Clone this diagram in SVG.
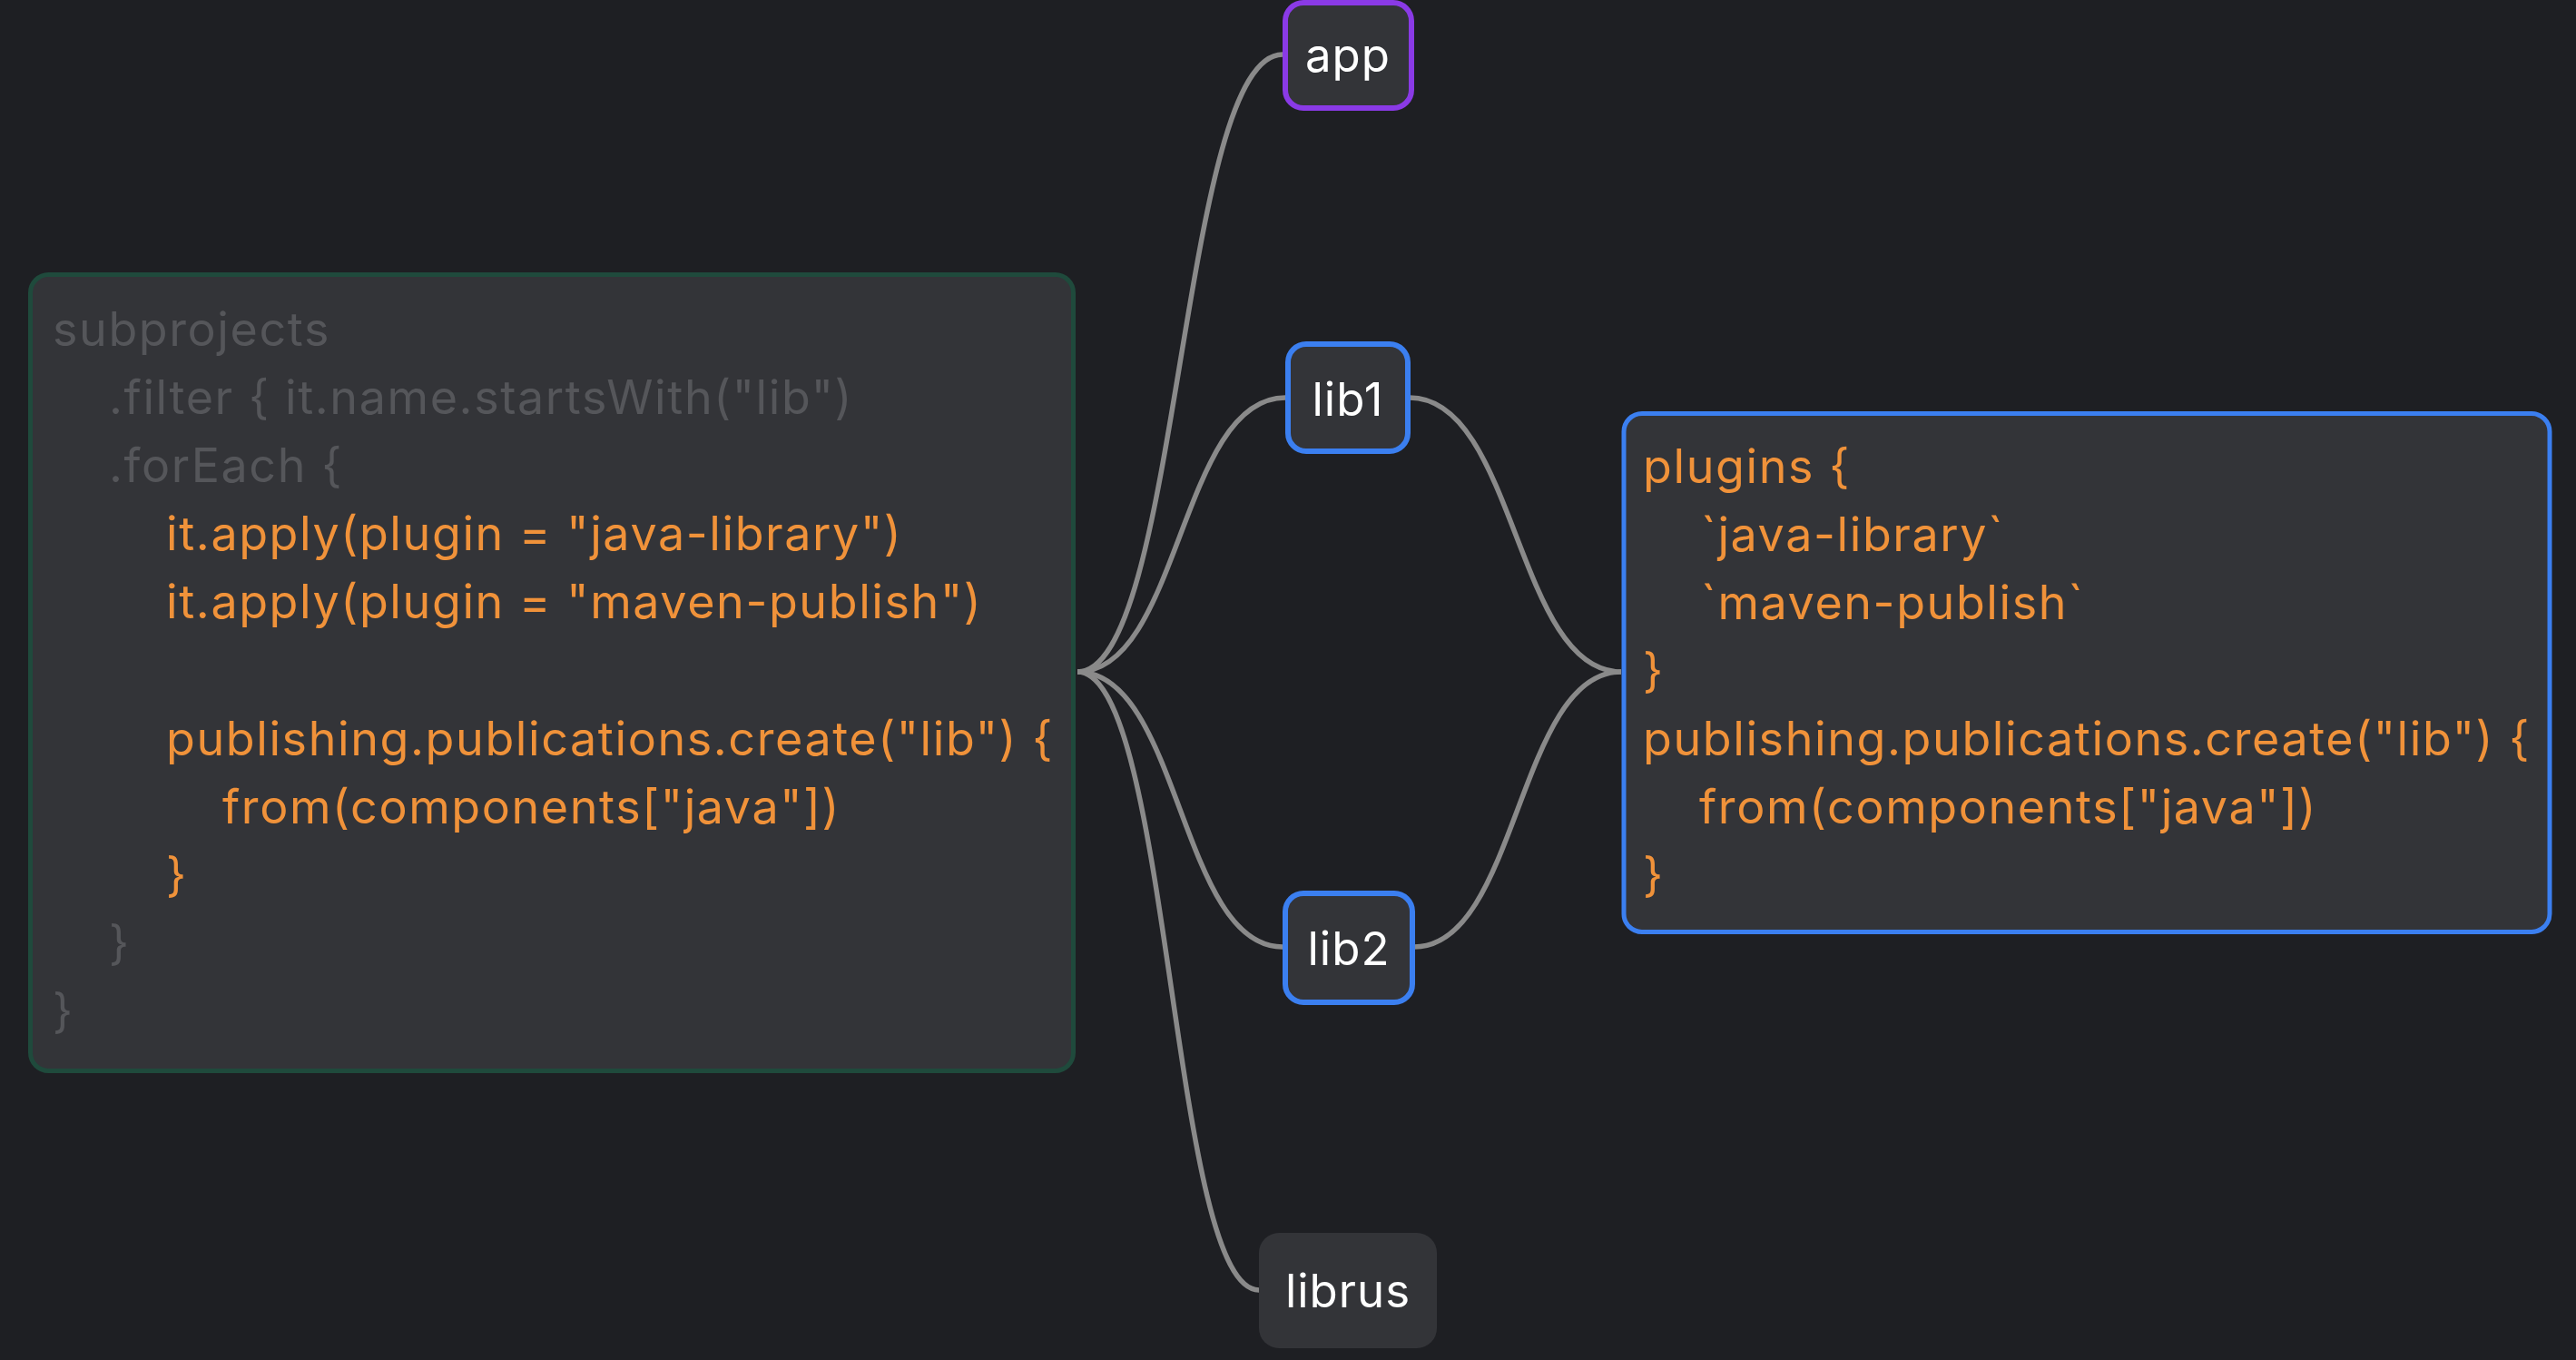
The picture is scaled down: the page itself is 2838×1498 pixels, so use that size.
<svg xmlns="http://www.w3.org/2000/svg" width="2838" height="1498" viewBox="0 0 2838 1498">
<style>
.bg{fill:#1e1f23}
.code{font-family:Inter,"Noto Sans","Liberation Sans",sans-serif;font-size:52px;letter-spacing:1.6px}
.dim{fill:#55565a}
.or{fill:#f0923a}
.lbl{font-family:Inter,"Noto Sans","Liberation Sans",sans-serif;font-size:51px;fill:#ffffff;text-anchor:middle;letter-spacing:1px}
.box{fill:#333438}
.edge{fill:none;stroke:#8a8a8a;stroke-width:5.5}
</style>
<rect class="bg" x="0" y="0" width="2838" height="1498"/>
<g id="connectors">
<path class="edge" d="M1187 740 C1300 740 1300 60 1413 60"/>
<path class="edge" d="M1187 740 C1300 740 1300 438 1416 438"/>
<path class="edge" d="M1187 740 C1300 740 1300 1043 1413 1043"/>
<path class="edge" d="M1187 740 C1290 740 1290 1421 1387 1421"/>
<path class="edge" d="M1553 438 C1670 438 1670 740 1786 740"/>
<path class="edge" d="M1558 1043 C1672 1043 1672 740 1786 740"/>
</g>
<g id="script-left">
<rect class="box" x="33.5" y="302.5" width="1149" height="877" rx="20" stroke="#1f4a3c" stroke-width="5"/>
<text class="code dim" x="58" y="381">subprojects</text>
<text class="code dim" x="120" y="456">.filter { it.name.startsWith("lib")</text>
<text class="code dim" x="120" y="531">.forEach {</text>
<text class="code or" x="183" y="606">it.apply(plugin = "java-library")</text>
<text class="code or" x="183" y="681">it.apply(plugin = "maven-publish")</text>
<text class="code or" x="183" y="832">publishing.publications.create("lib") {</text>
<text class="code or" x="245" y="907">from(components["java"])</text>
<text class="code or" x="183" y="982">}</text>
<text class="code dim" x="120" y="1057">}</text>
<text class="code dim" x="58" y="1132">}</text>
</g>
<g id="app">
<rect class="box" x="1416" y="3" width="139" height="116" rx="20" stroke="#8a3ae6" stroke-width="6"/>
<text class="lbl" x="1485" y="79">app</text>
</g>
<g id="lib1">
<rect class="box" x="1419" y="379" width="132" height="118" rx="20" stroke="#3b7ff0" stroke-width="6"/>
<text class="lbl" x="1485" y="458">lib1</text>
</g>
<g id="lib2">
<rect class="box" x="1416" y="984" width="140" height="120" rx="20" stroke="#3b7ff0" stroke-width="6"/>
<text class="lbl" x="1486" y="1063">lib2</text>
</g>
<g id="librus">
<rect class="box" x="1387" y="1358" width="196" height="127" rx="22"/>
<text class="lbl" x="1485" y="1440">librus</text>
</g>
<g id="script-right">
<rect class="box" x="1789" y="455.5" width="1020" height="571" rx="20" stroke="#3b7ff0" stroke-width="5"/>
<text class="code or" x="1810" y="532">plugins {</text>
<text class="code or" x="1874" y="607">`java-library`</text>
<text class="code or" x="1874" y="682">`maven-publish`</text>
<text class="code or" x="1810" y="757">}</text>
<text class="code or" x="1810" y="832">publishing.publications.create("lib") {</text>
<text class="code or" x="1872" y="907">from(components["java"])</text>
<text class="code or" x="1810" y="982">}</text>
</g>
</svg>
